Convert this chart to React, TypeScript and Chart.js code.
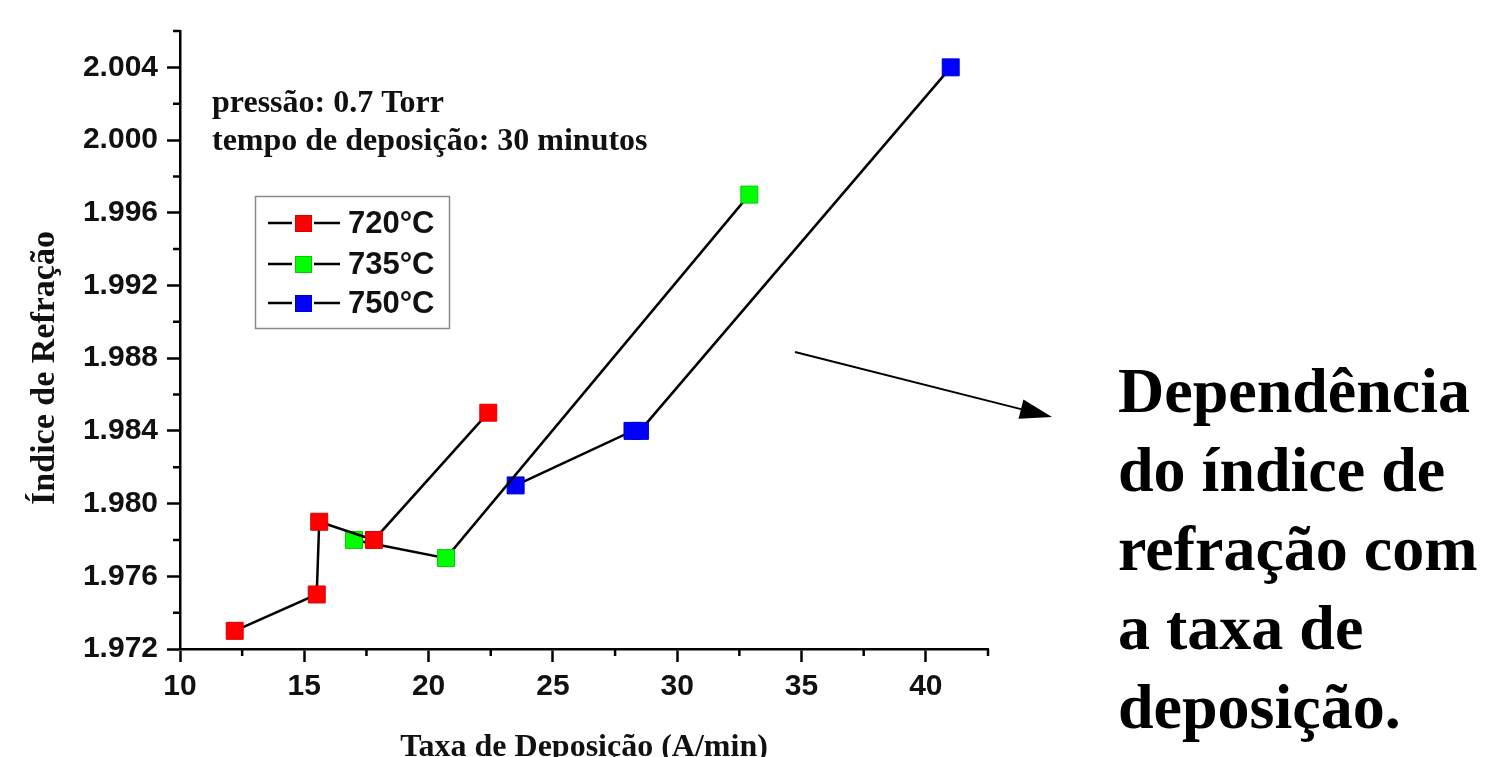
import React, { useEffect, useRef } from 'react';
import { Chart, registerables } from 'chart.js';

Chart.register(...registerables);

// ---- data ----
const seriesLabels = ['720°C', '735°C', '750°C'];
const seriesFill = ['#ff0000', '#00ff00', '#0000ff'];
const seriesEdge = ['#d80000', '#00cc00', '#0000cc'];

const x720 = [12.2, 15.5, 15.6, 17.8, 22.4];
const y720 = [1.973, 1.975, 1.979, 1.978, 1.985];
const x735 = [17.0, 20.7, 32.9];
const y735 = [1.978, 1.977, 1.997];
const x750 = [23.5, 28.2, 28.5, 41.0];
const y750 = [1.981, 1.984, 1.984, 2.004];

const xMajorTicks = [10, 15, 20, 25, 30, 35, 40];
const xMinorTicks = [12.5, 17.5, 22.5, 27.5, 32.5, 37.5, 42.5];
const yMajorTicks = [1.972, 1.976, 1.98, 1.984, 1.988, 1.992, 1.996, 2.0, 2.004];
const yMinorTicks = [1.974, 1.978, 1.982, 1.986, 1.99, 1.994, 1.998, 2.002, 2.006];

const xTitle = 'Taxa de Deposição (A/min)';
const yTitle = 'Índice de Refração';
const noteLines = ['pressão: 0.7 Torr', 'tempo de deposição: 30 minutos'];
const captionLines = ['Dependência', 'do índice de', 'refração com', 'a taxa de', 'deposição.'];

const W = 1485;
const H = 780;

const toPoints = (xs: number[], ys: number[]) => xs.map((x, i) => ({ x, y: ys[i] }));

const bgPlugin = {
  id: 'bg',
  beforeDraw(chart: any) {
    const ctx = chart.ctx;
    ctx.save();
    ctx.fillStyle = '#ffffff';
    ctx.fillRect(0, 0, chart.width, chart.height);
    ctx.restore();
  },
};

const decorPlugin = {
  id: 'decor',
  afterDraw(chart: any) {
    const ctx = chart.ctx;
    const xs = chart.scales.x;
    const ys = chart.scales.y;
    ctx.save();

    // minor ticks
    ctx.strokeStyle = '#000';
    ctx.lineWidth = 2.5;
    ctx.beginPath();
    xMinorTicks.forEach((v) => {
      const px = xs.getPixelForValue(v);
      ctx.moveTo(px, xs.top);
      ctx.lineTo(px, xs.top + 7);
    });
    yMinorTicks.forEach((v) => {
      const py = ys.getPixelForValue(v);
      ctx.moveTo(ys.right - 7, py);
      ctx.lineTo(ys.right, py);
    });
    ctx.stroke();

    // y title
    ctx.save();
    ctx.translate(45, 368);
    ctx.rotate(-Math.PI / 2);
    ctx.font = 'bold 34px "Liberation Serif"';
    ctx.textAlign = 'center';
    ctx.textBaseline = 'middle';
    ctx.fillStyle = '#111';
    ctx.fillText(yTitle, 0, 0);
    ctx.restore();

    // notes
    ctx.font = 'bold 32px "Liberation Serif"';
    ctx.textAlign = 'left';
    ctx.textBaseline = 'alphabetic';
    ctx.fillStyle = '#111';
    noteLines.forEach((t, i) => ctx.fillText(t, 212, 112 + i * 38));

    // legend
    ctx.strokeStyle = '#8a8a8a';
    ctx.lineWidth = 1.5;
    ctx.strokeRect(255.5, 196.5, 194, 132);
    const rows = [223, 264, 303];
    seriesLabels.forEach((label, i) => {
      const ry = rows[i];
      ctx.strokeStyle = '#000';
      ctx.lineWidth = 2.5;
      ctx.beginPath();
      ctx.moveTo(268, ry);
      ctx.lineTo(292, ry);
      ctx.moveTo(314, ry);
      ctx.lineTo(340, ry);
      ctx.stroke();
      ctx.fillStyle = seriesFill[i];
      ctx.fillRect(295, ry - 8, 17, 17);
      ctx.strokeStyle = seriesEdge[i];
      ctx.lineWidth = 1;
      ctx.strokeRect(295.5, ry - 7.5, 16, 16);
      ctx.fillStyle = '#111';
      ctx.font = 'bold 31px "Liberation Sans"';
      ctx.textBaseline = 'middle';
      ctx.fillText(label, 348, ry + 1);
    });

    // arrow
    const x0 = 795, y0 = 352, x1 = 1052, y1 = 417;
    const ang = Math.atan2(y1 - y0, x1 - x0);
    const len = 32, hw = 10;
    ctx.strokeStyle = '#000';
    ctx.lineWidth = 2;
    ctx.beginPath();
    ctx.moveTo(x0, y0);
    ctx.lineTo(x1 - len * Math.cos(ang), y1 - len * Math.sin(ang));
    ctx.stroke();
    ctx.fillStyle = '#000';
    ctx.beginPath();
    ctx.moveTo(x1, y1);
    const bx = x1 - len * Math.cos(ang), by = y1 - len * Math.sin(ang);
    ctx.lineTo(bx + hw * Math.sin(ang), by - hw * Math.cos(ang));
    ctx.lineTo(bx - hw * Math.sin(ang), by + hw * Math.cos(ang));
    ctx.closePath();
    ctx.fill();

    // caption
    ctx.font = 'bold 64px "Liberation Serif"';
    ctx.textAlign = 'left';
    ctx.textBaseline = 'alphabetic';
    ctx.fillStyle = '#000';
    captionLines.forEach((t, i) => ctx.fillText(t, 1118, 412 + i * 79));

    ctx.restore();
  },
};

export default function App() {
  const ref = useRef<HTMLCanvasElement | null>(null);

  useEffect(() => {
    if (!ref.current) return;
    const sets = [toPoints(x720, y720), toPoints(x735, y735), toPoints(x750, y750)];
    const chart = new Chart(ref.current, {
      type: 'scatter',
      data: {
        datasets: sets.map((d, i) => ({
          label: seriesLabels[i],
          data: d,
          showLine: true,
          borderColor: '#000',
          borderWidth: 2.5,
          tension: 0,
          pointStyle: 'rect',
          pointRadius: 12,
          pointHoverRadius: 12,
          pointBackgroundColor: seriesFill[i],
          pointBorderColor: seriesEdge[i],
          pointBorderWidth: 1,
        })),
      },
      options: {
        responsive: false,
        animation: false,
        events: [],
        layout: { padding: { left: 0, top: 31, right: W - 988, bottom: 0 } },
        plugins: {
          legend: { display: false },
          tooltip: { enabled: false },
          title: { display: false },
        },
        scales: {
          x: {
            type: 'linear',
            min: 10,
            max: 42.5,
            afterBuildTicks: (s: any) => {
              s.ticks = xMajorTicks.map((v) => ({ value: v }));
            },
            afterFit: (s: any) => {
              s.height = H - 649;
            },
            ticks: {
              font: { family: 'Liberation Sans', weight: 'bold', size: 30 },
              color: '#111',
              padding: 7,
              maxRotation: 0,
              autoSkip: false,
              callback: (v: any) => String(v),
            },
            grid: {
              display: true,
              drawOnChartArea: false,
              drawTicks: true,
              tickLength: 13,
              tickWidth: 2.5,
              tickColor: '#000',
            },
            border: { display: true, color: '#000', width: 2.5 },
            title: {
              display: true,
              text: xTitle,
              color: '#111',
              font: { family: 'Liberation Serif', weight: 'bold', size: 32 },
              padding: { top: 0, bottom: 13 },
            },
          },
          y: {
            type: 'linear',
            min: 1.972,
            max: 2.006,
            afterBuildTicks: (s: any) => {
              s.ticks = yMajorTicks.map((v) => ({ value: v }));
            },
            afterFit: (s: any) => {
              s.width = 180;
            },
            ticks: {
              font: { family: 'Liberation Sans', weight: 'bold', size: 30 },
              color: '#111',
              padding: 9,
              autoSkip: false,
              callback: (v: any) => Number(v).toFixed(3),
            },
            grid: {
              display: true,
              drawOnChartArea: false,
              drawTicks: true,
              tickLength: 13,
              tickWidth: 2.5,
              tickColor: '#000',
            },
            border: { display: true, color: '#000', width: 2.5 },
            title: { display: false },
          },
        },
      },
      plugins: [bgPlugin, decorPlugin],
    });
    return () => chart.destroy();
  }, []);

  return (
    <div
      style={{
        position: 'fixed',
        left: 0,
        top: 0,
        width: W,
        height: 757,
        overflow: 'hidden',
        background: '#fff',
      }}
    >
      <canvas ref={ref} width={W} height={H} style={{ display: 'block', width: W, height: H }} />
    </div>
  );
}
